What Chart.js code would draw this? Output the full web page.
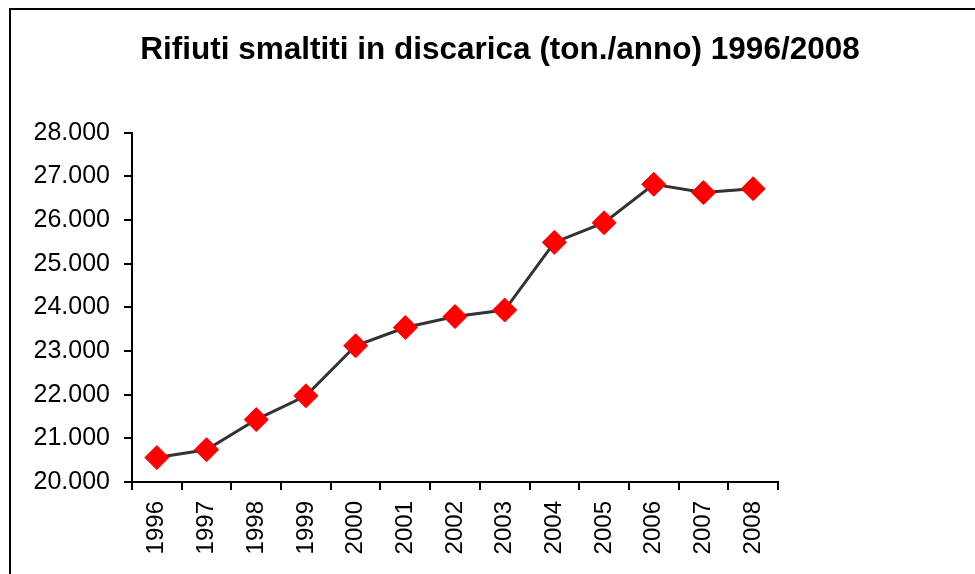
<!DOCTYPE html>
<html>
<head>
<meta charset="utf-8">
<script src="https://cdn.jsdelivr.net/npm/chart.js@4/dist/chart.umd.min.js"></script>
<style>
    html, body { margin: 0; padding: 0; background: #fff; overflow: hidden; }
    #frame {
        position: absolute; left: 9px; top: 8px;
        width: 2000px; height: 2000px;
        border: 2px solid #000;
    }
    #wrap { position: absolute; left: 0; top: 0; width: 975px; height: 574px; }
</style>
</head>
<body>
<div id="frame"></div>
<div id="wrap"><canvas id="chart" width="975" height="574"></canvas></div>
<script>
// anni e tonnellate
const years = ["1996", "1997", "1998", "1999", "2000", "2001", "2002",
               "2003", "2004", "2005", "2006", "2007", "2008"];
const tons = [20560, 20740, 21430, 21975, 23120, 23540, 23790,
              23940, 25490, 25940, 26820, 26630, 26720];
const yMin = 20000, yMax = 28000, yStep = 1000;
const titleText = "Rifiuti smaltiti in discarica (ton./anno) 1996/2008";

function fmtThousands(v) {
    return String(v).replace(/\B(?=(\d{3})+(?!\d))/g, ".");
}

Chart.defaults.font.family = "'Liberation Sans', Arial, sans-serif";
Chart.defaults.color = "#000";

const ctx = document.getElementById("chart").getContext("2d");

const chart = new Chart(ctx, {
    type: 'line',
    data: {
        labels: years,
        datasets: [{
            data: tons,
            borderColor: '#333333',
            borderWidth: 3,
            pointStyle: 'rectRot',
            pointRadius: 12,
            pointBackgroundColor: '#ff0000',
            pointBorderColor: '#ff0000',
            pointBorderWidth: 1,
            tension: 0,
            fill: false
        }]
    },
    options: {
        responsive: false,
        animation: false,
        layout: { padding: { left: 25, top: 0, right: 0, bottom: 0 } },
        plugins: {
            legend: { display: false },
            tooltip: { enabled: false },
            title: {
                display: true,
                text: titleText,
                color: '#000',
                font: { size: 31.5, weight: 'bold' },
                padding: { top: 31, bottom: 64 }
            }
        },
        scales: {
            x: {
                offset: true,
                grid: { offset: true, drawOnChartArea: false, color: '#000', lineWidth: 2, tickLength: 8 },
                border: { color: '#000', width: 2 },
                ticks: { font: { size: 24 }, maxRotation: 90, minRotation: 90, padding: 11, autoSkip: false },
                afterFit: s => { s.height = 92; }
            },
            y: {
                min: yMin,
                max: yMax,
                grid: { drawOnChartArea: false, color: '#000', lineWidth: 2, tickLength: 8 },
                border: { color: '#000', width: 2 },
                ticks: { stepSize: yStep, font: { size: 25 }, padding: 14, callback: v => fmtThousands(v) },
                afterFit: s => { s.width = 107; }
            },
            y2: {
                position: 'right',
                grid: { display: false },
                border: { display: false },
                ticks: { display: false },
                afterFit: s => { s.width = 197; }
            }
        }
    }
});
</script>
</body>
</html>
